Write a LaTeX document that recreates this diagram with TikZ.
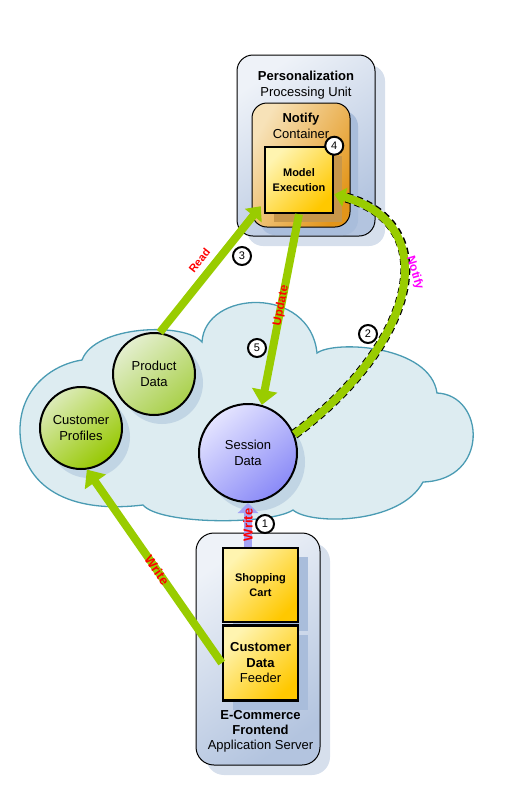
\documentclass[tikz,border=0pt]{standalone}
\usepackage{fontspec}
\setmainfont{Liberation Sans}
\usetikzlibrary{arrows.meta,positioning,shadows,calc}

\definecolor{flowgreen}{HTML}{99CC00}
\definecolor{writeblue}{HTML}{A3A3F5}
\definecolor{cloudfill}{HTML}{DDECF1}
\definecolor{cloudline}{HTML}{4A9BB3}
\definecolor{unittop}{HTML}{EEF2F8}
\definecolor{unitbot}{HTML}{B3C4DF}
\definecolor{unitshade}{HTML}{D6DFEC}
\definecolor{innershade}{HTML}{A9BDDB}
\definecolor{conttop}{HTML}{F7E2B8}
\definecolor{contbot}{HTML}{E3951A}
\definecolor{modelshade}{HTML}{C8974A}
\definecolor{yellowtop}{HTML}{FFF4B0}
\definecolor{yellowbot}{HTML}{FFC800}
\definecolor{pdtop}{HTML}{E4EFCF}
\definecolor{pdbot}{HTML}{A9D04A}
\definecolor{cptop}{HTML}{DCEBB8}
\definecolor{cpbot}{HTML}{96C800}
\definecolor{sesstop}{HTML}{E4E4FF}
\definecolor{sessbot}{HTML}{8A8AF7}
\definecolor{circshade}{HTML}{BFD3E3}
\definecolor{notifypink}{HTML}{FF00FF}

\tikzset{
  unitbox/.style={draw=black, line width=1pt, rounded corners=16pt,
    top color=unittop, bottom color=unitbot, shading angle=35,
    drop shadow={shadow xshift=10pt, shadow yshift=-10pt, fill=unitshade, opacity=1}},
  contbox/.style={draw=black, line width=1pt, rounded corners=15pt,
    left color=conttop, right color=contbot, shading angle=60,
    drop shadow={shadow xshift=8pt, shadow yshift=-8pt, fill=innershade, opacity=1}},
  puclass/.style={draw=black, line width=2.5pt, inner sep=0pt,
    top color=yellowtop, bottom color=yellowbot, shading angle=45,
    align=center, font=\bfseries\fontsize{11}{15}\selectfont},
  datacirc/.style={circle, draw=black, line width=2pt, inner sep=0pt,
    align=center, font=\fontsize{13}{16}\selectfont,
    drop shadow={shadow xshift=8pt, shadow yshift=-9pt, fill=circshade, opacity=0.9}},
  title/.style={inner sep=0pt, align=center, font=\fontsize{13}{16}\selectfont},
  step num/.style={circle, draw=black, line width=2pt, fill=white, inner sep=0pt,
    minimum size=18pt, font=\fontsize{11}{13}\selectfont},
  flow/.style={draw=flowgreen, line width=8pt, -{Triangle[width=25pt,length=15pt]}},
  flowlabel/.style={text=red, inner sep=1pt, font=\bfseries\fontsize{12}{14}\selectfont},
}

\begin{document}
\begin{tikzpicture}[x=1pt,y=-1pt]
  \useasboundingbox (0,0) rectangle (521,793);

  % Data grid
  \draw[cloudline, fill=cloudfill, line width=1.3pt]
    (82,360) .. controls (95,325) and (185,322) .. (202,342)
    .. controls (205,290) and (310,285) .. (317,353)
    .. controls (335,340) and (430,345) .. (437,393)
    .. controls (485,395) and (490,480) .. (423,482)
    .. controls (400,525) and (310,525) .. (293,510)
    .. controls (270,525) and (160,525) .. (143,505)
    .. controls (60,515) and (20,480) .. (20,430)
    .. controls (20,390) and (50,365) .. cycle;

  % Processing unit
  \node[unitbox, minimum width=138pt, minimum height=181pt] (pu) at (306,145.5) {};
  \node[title, anchor=north] (putitle) at ([yshift=-16pt]pu.north)
    {\textbf{Personalization}\\Processing Unit};
  \node[contbox, minimum width=98pt, minimum height=124pt] (nc) at (301,165) {};
  \node[title, anchor=north] (nctitle) at ([yshift=-10pt]nc.north)
    {\textbf{Notify}\\Container};
  \node[puclass, minimum width=68pt, minimum height=66pt,
    drop shadow={shadow xshift=9pt, shadow yshift=-9pt, fill=modelshade, opacity=1}]
    (me) at (299,180) {Model\\Execution};

  % Application server
  \node[unitbox, rounded corners=18pt, minimum width=124pt, minimum height=232pt] (fe) at (258,649) {};
  \node[puclass, minimum width=75pt, minimum height=74pt,
    drop shadow={shadow xshift=10pt, shadow yshift=-9pt, fill=innershade, opacity=1}]
    (cart) at (260.5,585) {Shopping\\Cart};
  \node[puclass, minimum width=75pt, minimum height=75pt, below=1pt of cart,
    font=\fontsize{13}{15.5}\selectfont,
    drop shadow={shadow xshift=10pt, shadow yshift=-9pt, fill=innershade, opacity=1}]
    (feeder) {\textbf{Customer}\\\textbf{Data}\\Feeder};
  \node[title, below=8pt of feeder, font=\fontsize{13}{15}\selectfont] (fetitle)
    {\textbf{E-Commerce}\\\textbf{Frontend}\\Application Server};

  % Data in the grid
  \node[datacirc, minimum size=82pt, top color=pdtop, bottom color=pdbot, shading angle=40]
    (pd) at (154,374) {Product\\Data};
  \node[datacirc, minimum size=82pt, top color=cptop, bottom color=cpbot, shading angle=40]
    (cp) at (81,428) {Customer\\Profiles};
  \node[datacirc, minimum size=98pt, top color=sesstop, bottom color=sessbot, shading angle=40]
    (sess) at (248,453) {Session\\Data};

  % Flows
  \draw[draw=writeblue, line width=8pt, -{Triangle[width=20pt,length=10pt]}]
    (cart.north -| sess.south) -- (sess.south)
    node[flowlabel, midway, sloped, font=\bfseries\fontsize{13}{15}\selectfont] {Write};
  \draw[flow] (feeder.west) -- (cp.-82)
    node[flowlabel, pos=0.48, sloped, font=\bfseries\fontsize{13}{15}\selectfont] {Write};
  \draw[flow, -{Triangle[width=21pt,length=12pt]}] (pd.82) -- ($(me.south west)+(-3,-8)$)
    node[flowlabel, pos=0.5, sloped, above=5pt, font=\bfseries\fontsize{11}{13}\selectfont] {Read};
  \draw[black, line width=10pt, dash pattern=on 6pt off 4pt, shorten >=12pt]
    (sess.22) .. controls (415,345) and (445,225) .. (me.-22);
  \draw[flow, -{Triangle[width=19pt,length=11pt]}]
    (sess.22) .. controls (415,345) and (445,225) .. (me.-22)
    node[pos=0.55, xshift=12pt, yshift=6pt, rotate=-73, text=notifypink,
      font=\bfseries\fontsize{12}{14}\selectfont] {Notify};
  \draw[flow] (me.south) -- (sess.74)
    node[flowlabel, pos=0.48, sloped] {Update};

  % Steps
  \node[step num] (s1) at (265,524) {1};
  \node[step num] (s2) at (368,334) {2};
  \node[step num] (s3) at (242,256) {3};
  \node[step num] (s4) at (me.north east) {4};
  \node[step num] (s5) at (257,348) {5};
\end{tikzpicture}
\end{document}
